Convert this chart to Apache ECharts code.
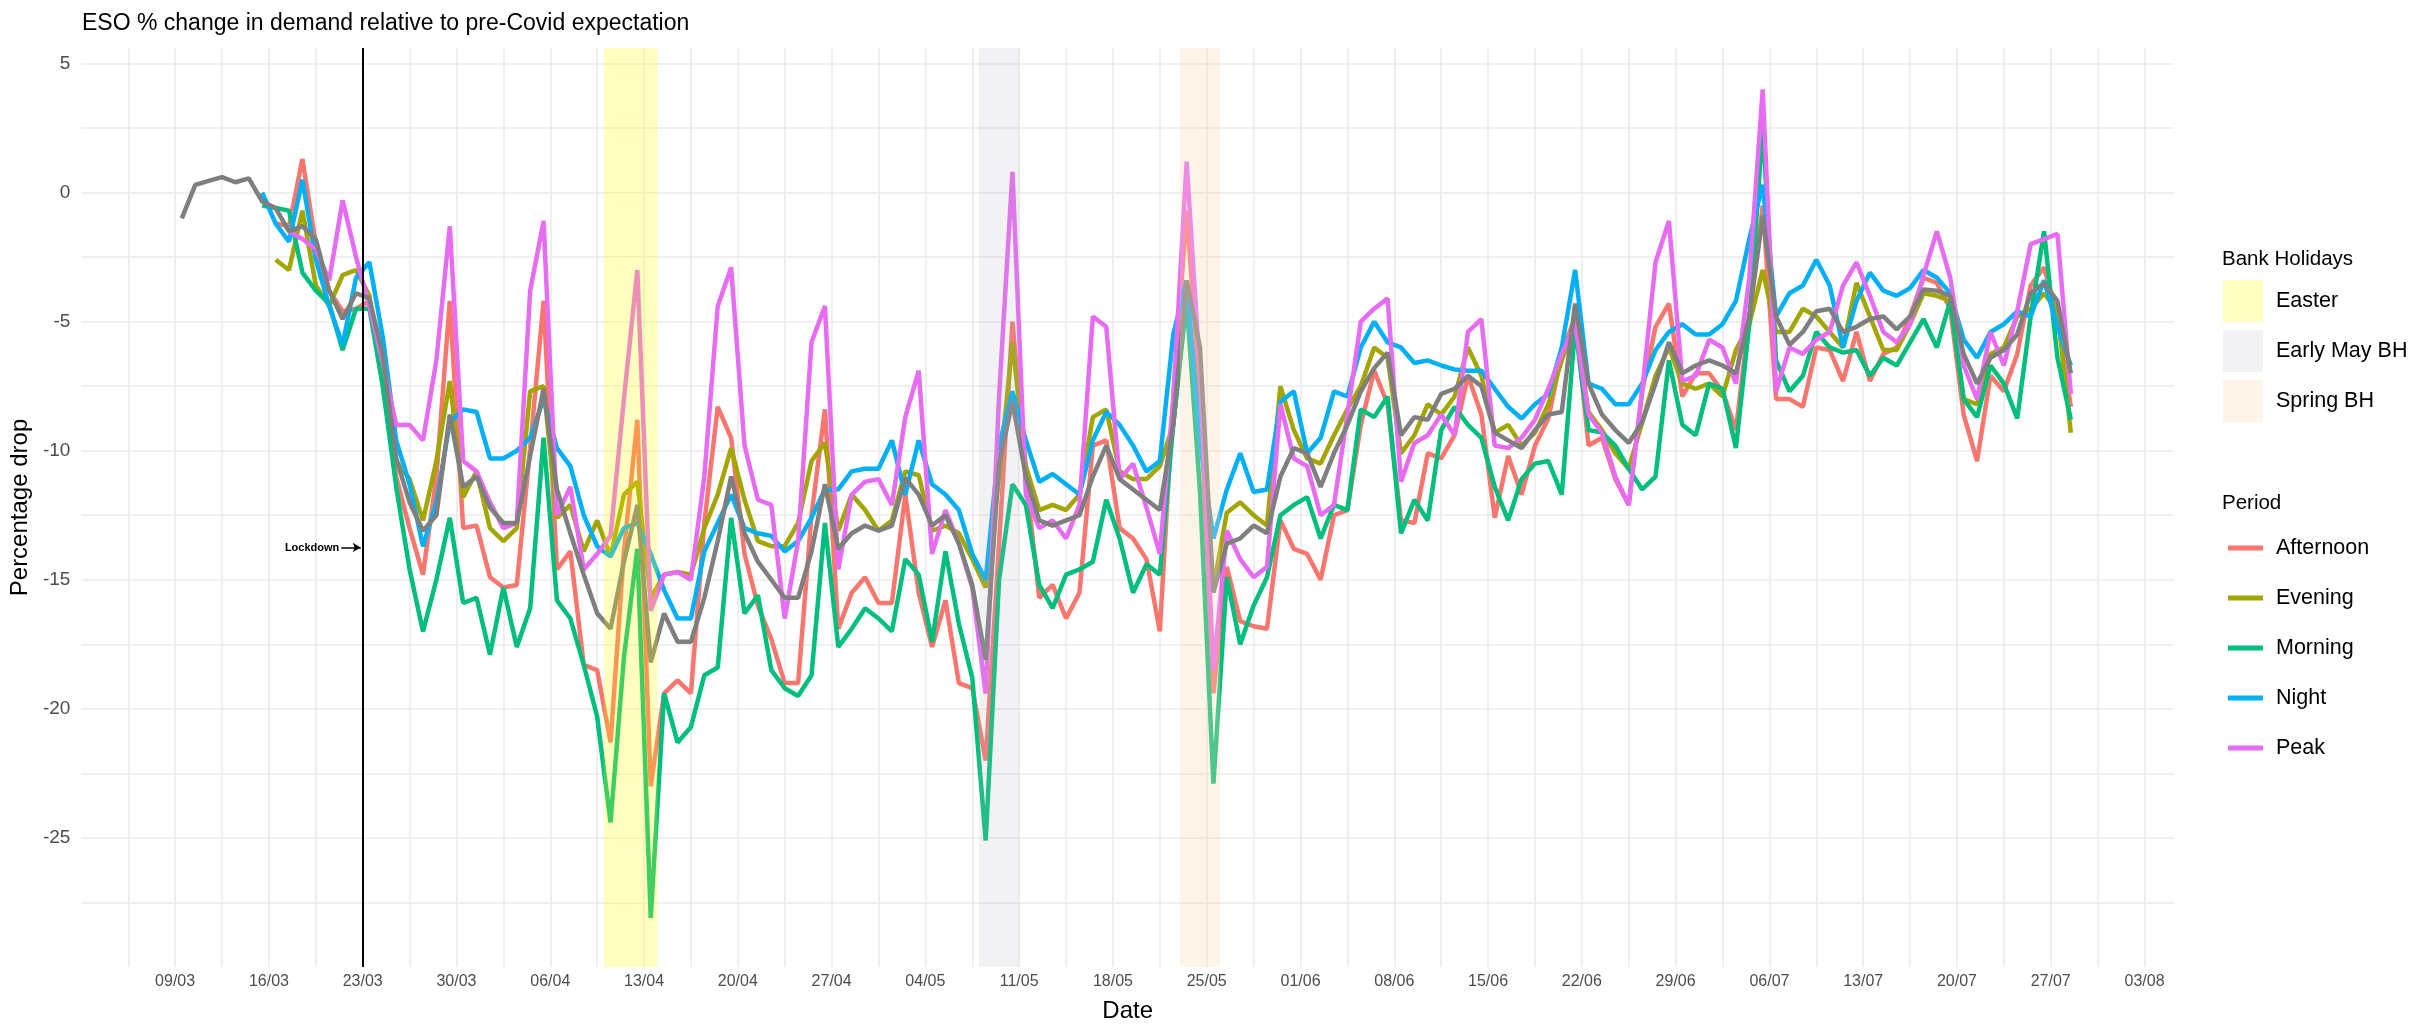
<!DOCTYPE html>
<html>
<head>
<meta charset="utf-8">
<title>ESO demand change</title>
<script src="https://cdn.jsdelivr.net/npm/echarts@6/dist/echarts.min.js"></script>
<style>
html, body { margin: 0; padding: 0; background: #fff; }
#main { width: 2414px; height: 1028px; }
</style>
</head>
<body>
<div id="main"></div>
<script>
// daily readings, first value is 09/03/2020
var firstDay = '2020-03-09';
var lockdownDay = '2020-03-23';

var periods = ['Afternoon', 'Evening', 'Morning', 'Night', 'Peak'];
var periodColors = ['#F8766D', '#A3A500', '#00BF7D', '#00B0F6', '#E76BF3'];

var holidayNames = ['Easter', 'Early May BH', 'Spring BH'];
var holidayFrom = ['2020-04-10', '2020-05-08', '2020-05-23'];
var holidayTo = ['2020-04-14', '2020-05-11', '2020-05-26'];
var holidayColors = ['rgba(255,255,0,0.25)', 'rgba(185,175,190,0.18)', 'rgba(255,218,185,0.3)'];

var allDay = [
  -1.0, 0.3, 0.45, 0.6, 0.4, 0.55, -0.35, -0.6, -1.5, -1.3,
  -1.8, -3.8, -4.9, -3.9, -4.1, -6.3, -10.3, -12.0, -13.1, -12.5,
  -8.6, -11.4, -11.0, -12.2, -12.8, -12.8, -10.2, -7.6, -11.5, -13.2,
  -14.8, -16.3, -16.9, -14.3, -12.1, -18.2, -16.3, -17.4, -17.4, -15.7,
  -13.5, -11.0, -13.2, -14.3, -15.0, -15.7, -15.7, -13.9, -11.3, -13.8,
  -13.2, -12.9, -13.1, -12.9, -11.05, -11.7, -12.9, -12.5, -13.6, -15.2,
  -18.1, -10.5, -8.1, -11.0, -12.7, -12.9, -12.7, -12.5, -11.0, -9.8,
  -11.1, -11.5, -11.9, -12.3, -9.0, -3.4, -6.0, -15.5, -13.6, -13.4,
  -12.9, -13.2, -11.0, -9.9, -10.1, -11.4, -10.1, -9.0, -7.7, -6.8,
  -6.2, -9.4, -8.7, -8.8, -7.8, -7.6, -7.1, -7.5, -9.3, -9.6,
  -9.9, -9.2, -8.6, -8.5, -4.3, -7.4, -8.6, -9.2, -9.7, -8.9,
  -7.4, -5.8, -7.0, -6.7, -6.5, -6.7, -7.0, -4.8, -0.9, -4.8,
  -5.9, -5.4, -4.6, -4.5, -5.4, -5.2, -4.9, -4.8, -5.3, -4.8,
  -3.75, -3.8, -4.0, -6.25, -7.4, -6.4, -6.1, -5.5, -3.9, -3.5,
  -4.2, -7.0
];

var afternoon = [
  null, null, null, null, null, null, null, -1.2, -1.3, 1.3,
  -2.0, -3.8, -4.6, -4.5, -4.2, -7.5, -11.0, -13.0, -14.8, -11.0,
  -4.2, -13.0, -12.9, -14.9, -15.3, -15.2, -9.9, -4.2, -14.6, -13.9,
  -18.3, -18.5, -21.3, -13.9, -8.8, -23.0, -19.4, -18.9, -19.4, -12.8,
  -8.3, -9.5, -14.0, -16.0, -17.3, -19.0, -19.0, -12.5, -8.4, -16.9,
  -15.5, -14.9, -15.9, -15.9, -11.7, -15.5, -17.6, -15.8, -19.0, -19.2,
  -22.0, -13.6, -5.0, -11.0, -15.7, -15.2, -16.5, -15.5, -9.8, -9.6,
  -13.0, -13.4, -14.2, -17.0, -8.0, -0.7, -7.9, -19.4, -14.5, -16.6,
  -16.8, -16.9, -12.7, -13.8, -14.0, -15.0, -12.5, -12.3, -9.0, -6.9,
  -8.2, -12.7, -12.8, -10.1, -10.3, -9.4, -7.1, -8.6, -12.6, -10.2,
  -11.7, -9.8, -8.75, -6.25, -4.8, -9.8, -9.5, -11.1, -12.1, -7.7,
  -5.2, -4.3, -7.9, -7.0, -7.0, -7.7, -9.2, -4.8, -0.5, -8.0,
  -8.0, -8.3, -6.0, -6.1, -7.3, -5.4, -7.3, -6.25, -6.0, -4.8,
  -3.3, -3.5, -4.5, -8.6, -10.4, -7.1, -7.7, -6.25, -3.6, -2.9,
  -4.8, -8.3
];

var evening = [
  null, null, null, null, null, null, null, -2.6, -3.0, -0.7,
  -3.6, -4.4, -3.2, -3.0, -4.0, -7.3, -10.4, -11.1, -12.7, -10.4,
  -7.3, -11.8, -10.8, -13.0, -13.5, -13.0, -7.7, -7.5, -12.6, -12.1,
  -13.9, -12.7, -14.1, -11.7, -11.2, -15.7, -14.8, -14.7, -14.8, -13.0,
  -11.7, -9.9, -11.9, -13.5, -13.7, -13.7, -12.8, -10.4, -9.7, -13.1,
  -11.7, -12.3, -13.1, -12.7, -10.8, -10.95, -13.1, -12.9, -13.2, -14.2,
  -15.3, -11.0, -5.8, -10.6, -12.3, -12.1, -12.3, -11.7, -8.7, -8.4,
  -10.8, -11.1, -11.1, -10.6, -9.0, -4.0, -8.8, -15.3, -12.4, -12.0,
  -12.5, -12.9, -7.5, -9.2, -10.3, -10.5, -9.4, -8.4, -7.5, -6.0,
  -6.4, -10.1, -9.4, -8.2, -8.6, -7.9, -6.0, -7.1, -9.3, -9.0,
  -9.8, -9.3, -8.2, -6.5, -5.1, -8.5, -9.2, -10.1, -10.7, -8.9,
  -7.1, -6.0, -7.4, -7.6, -7.4, -7.9, -6.1, -5.1, -3.0, -5.4,
  -5.4, -4.5, -4.8, -5.4, -6.0, -3.5, -4.8, -6.1, -6.1, -5.1,
  -3.9, -4.0, -4.2, -8.0, -8.2, -6.25, -6.0, -4.8, -4.5, -3.9,
  -4.6, -9.3
];

var morning = [
  null, null, null, null, null, null, -0.5, -0.6, -0.7, -3.1,
  -3.8, -4.3, -6.1, -4.5, -4.5, -7.5, -11.4, -14.6, -17.0, -15.0,
  -12.6, -15.9, -15.7, -17.9, -15.3, -17.6, -16.1, -9.5, -15.8, -16.5,
  -18.3, -20.3, -24.4, -18.0, -13.8, -28.1, -19.4, -21.3, -20.7, -18.7,
  -18.4, -12.6, -16.3, -15.6, -18.5, -19.2, -19.5, -18.7, -12.8, -17.6,
  -16.9, -16.1, -16.5, -17.0, -14.2, -14.8, -17.4, -13.9, -16.7, -18.8,
  -25.1, -15.0, -11.3, -12.1, -15.2, -16.1, -14.8, -14.6, -14.3, -11.9,
  -13.4, -15.5, -14.4, -14.8, -9.0, -4.2, -11.6, -22.9, -14.9, -17.5,
  -16.0, -14.9, -12.5, -12.1, -11.8, -13.4, -12.1, -12.3, -8.4, -8.7,
  -7.9, -13.2, -11.9, -12.7, -9.2, -8.3, -9.0, -9.5, -11.4, -12.7,
  -11.1, -10.5, -10.4, -11.7, -5.2, -9.2, -9.3, -9.8, -10.7, -11.5,
  -11.0, -6.5, -9.0, -9.4, -7.4, -7.6, -9.9, -5.1, 2.6, -6.5,
  -7.7, -7.1, -5.4, -6.0, -6.2, -6.1, -7.1, -6.4, -6.7, -5.8,
  -4.9, -6.0, -4.2, -8.0, -8.7, -6.7, -7.4, -8.75, -4.8, -1.5,
  -6.4, -8.8
];

var night = [
  null, null, null, null, null, null, 0.0, -1.2, -1.9, 0.5,
  -2.6, -4.4, -5.9, -3.3, -2.7, -5.6, -9.6, -11.3, -13.7, -12.0,
  -8.9, -8.4, -8.5, -10.3, -10.3, -10.0, -9.5, -8.0, -9.9, -10.6,
  -12.5, -13.7, -14.1, -13.0, -12.8, -14.0, -15.4, -16.5, -16.5, -13.9,
  -12.8, -11.7, -13.0, -13.2, -13.3, -13.9, -13.5, -12.6, -11.5, -11.5,
  -10.8, -10.7, -10.7, -9.6, -11.7, -9.6, -11.3, -11.7, -12.3, -14.0,
  -15.0, -9.8, -7.7, -9.6, -11.2, -10.9, -11.3, -11.7, -9.6, -8.5,
  -9.0, -9.8, -10.8, -10.4, -5.5, -3.4, -9.7, -13.4, -11.5, -10.1,
  -11.6, -11.5, -8.1, -7.7, -10.1, -9.5, -7.7, -7.9, -6.0, -5.0,
  -5.8, -6.0, -6.6, -6.5, -6.7, -6.85, -6.9, -6.9, -7.6, -8.3,
  -8.75, -8.2, -7.8, -6.0, -3.0, -7.4, -7.6, -8.2, -8.2, -7.4,
  -6.1, -5.4, -5.1, -5.5, -5.5, -5.1, -4.2, -1.8, 0.3, -4.8,
  -3.9, -3.6, -2.6, -3.6, -6.0, -4.2, -3.1, -3.8, -4.0, -3.7,
  -3.0, -3.3, -3.9, -5.7, -6.4, -5.4, -5.1, -4.6, -4.8, -3.4,
  -5.2, -6.7
];

var peak = [
  null, null, null, null, null, null, null, null, -1.5, -1.8,
  -2.2, -3.4, -0.3, -2.5, -4.4, -6.6, -9.0, -9.0, -9.6, -6.5,
  -1.3, -10.4, -10.8, -12.0, -13.0, -12.8, -3.8, -1.1, -12.5, -11.4,
  -14.6, -14.0, -13.3, -8.0, -3.0, -16.2, -14.8, -14.7, -15.0, -11.0,
  -4.4, -2.9, -9.8, -11.9, -12.1, -16.5, -13.5, -5.8, -4.4, -14.6,
  -11.7, -11.2, -11.1, -12.1, -8.7, -6.9, -14.0, -12.3, -13.6, -15.3,
  -19.4, -7.9, 0.8, -11.7, -13.0, -12.7, -13.4, -12.1, -4.8, -5.2,
  -11.1, -10.5, -12.2, -14.0, -8.0, 1.2, -7.0, -18.5, -13.1, -14.2,
  -14.9, -14.5, -8.2, -10.3, -10.6, -12.5, -12.1, -8.6, -5.0, -4.5,
  -4.1, -11.2, -9.7, -9.4, -8.6, -9.4, -5.4, -4.9, -9.8, -9.9,
  -9.5, -8.8, -7.6, -6.25, -5.1, -8.6, -9.3, -11.0, -12.1, -7.7,
  -2.7, -1.1, -7.3, -7.1, -5.7, -6.0, -7.4, -3.3, 4.0, -7.7,
  -6.0, -6.25, -5.7, -5.4, -3.6, -2.7, -4.0, -5.4, -5.8, -5.1,
  -3.2, -1.5, -3.3, -6.7, -8.0, -5.4, -6.7, -4.6, -2.0, -1.8,
  -1.6, -7.8
];

var periodValues = [afternoon, evening, morning, night, peak];

function dayNo(s) {
  return (Date.parse(s) - Date.parse(firstDay)) / 86400000;
}

// each reading is a daily figure, drawn at midday
function toPoints(vals) {
  var pts = [];
  for (var i = 0; i < vals.length; i++) {
    if (vals[i] !== null) pts.push([i + 0.5, vals[i]]);
  }
  return pts;
}

function pad(n) { return n < 10 ? '0' + n : '' + n; }

function dayLabel(v) {
  var w = v / 7;
  if (v < 0 || Math.abs(w - Math.round(w)) > 1e-6) return '';
  var d = new Date(Date.parse(firstDay) + Math.round(v) * 86400000);
  return pad(d.getUTCDate()) + '/' + pad(d.getUTCMonth() + 1);
}

var series = [];
for (var p = 0; p < periods.length; p++) {
  series.push({
    name: periods[p],
    type: 'line',
    data: toPoints(periodValues[p]),
    color: periodColors[p],
    showSymbol: false,
    symbol: 'none',
    lineStyle: { width: 4.5, color: periodColors[p] },
    emphasis: { disabled: true }
  });
}

series.push({
  name: 'All day',
  type: 'line',
  data: toPoints(allDay),
  color: '#7F7F7F',
  showSymbol: false,
  symbol: 'none',
  lineStyle: { width: 4.5, color: '#7F7F7F' },
  emphasis: { disabled: true },
  markLine: {
    silent: true,
    z: 12,
    animation: false,
    symbol: ['none', 'none'],
    data: [
      {
        xAxis: dayNo(lockdownDay),
        label: { show: false },
        lineStyle: { color: '#000', width: 2, type: 'solid' }
      },
      [
        {
          coord: [dayNo(lockdownDay) - 1.6, -13.75],
          symbol: 'none',
          label: { show: true, position: 'start', formatter: 'Lockdown', fontSize: 11, fontWeight: 'bold', color: '#000', distance: 2 },
          lineStyle: { color: '#000', width: 1.5, type: 'solid' }
        },
        { coord: [dayNo(lockdownDay) - 0.15, -13.75], symbol: 'arrow', symbolSize: [7, 8] }
      ]
    ]
  }
});

// holiday shading sits on top of the lines, like the translucent rects in the original
for (var h = 0; h < holidayNames.length; h++) {
  series.push({
    name: holidayNames[h],
    type: 'line',
    data: [],
    color: holidayColors[h],
    itemStyle: { color: holidayColors[h] },
    markArea: {
      silent: true,
      z: 10,
      itemStyle: { color: holidayColors[h] },
      data: [[{ xAxis: dayNo(holidayFrom[h]) }, { xAxis: dayNo(holidayTo[h]) }]]
    }
  });
}

var myChart = echarts.init(document.getElementById('main'));
var option = {
  animation: false,
  backgroundColor: '#fff',
  textStyle: { fontFamily: 'Liberation Sans, Arial, sans-serif' },
  title: [
    {
      text: 'ESO % change in demand relative to pre-Covid expectation',
      left: 82, top: 12, padding: 0,
      textStyle: { fontSize: 23, fontWeight: 'normal', color: '#000' }
    },
    {
      text: 'Bank Holidays', left: 2222, top: 249, padding: 0,
      textStyle: { fontSize: 20.5, fontWeight: 'normal', color: '#000' }
    },
    {
      text: 'Period', left: 2222, top: 493, padding: 0,
      textStyle: { fontSize: 20.5, fontWeight: 'normal', color: '#000' }
    }
  ],
  legend: [
    {
      data: holidayNames,
      orient: 'vertical',
      left: 2223, top: 280,
      padding: 0,
      icon: 'rect',
      itemWidth: 40, itemHeight: 42, itemGap: 8,
      selectedMode: false,
      itemStyle: { borderWidth: 0 },
      textStyle: { fontSize: 21.5, lineHeight: 22, color: '#000', padding: [0, 0, 0, 8] }
    },
    {
      data: periods,
      orient: 'vertical',
      left: 2228, top: 537,
      padding: 0,
      icon: 'rect',
      itemWidth: 35, itemHeight: 5, itemGap: 28,
      selectedMode: false,
      itemStyle: { borderWidth: 0 },
      textStyle: { fontSize: 21.5, lineHeight: 22, color: '#000', padding: [0, 0, 0, 8] }
    }
  ],
  grid: { left: 79.4, right: 240, top: 48, bottom: 54.4, containLabel: false },
  xAxis: {
    type: 'value',
    min: -7, max: 149.2, interval: 3.5,
    name: 'Date', nameLocation: 'middle', nameGap: 32,
    nameTextStyle: { fontSize: 24, color: '#000' },
    axisLine: { show: false },
    axisTick: { show: false },
    axisLabel: { formatter: dayLabel, fontSize: 16, color: '#4D4D4D', margin: 7, showMinLabel: false, showMaxLabel: false },
    splitLine: { show: true, showMinLine: false, showMaxLine: false, lineStyle: { color: '#EBEBEB', width: 1.6 } }
  },
  yAxis: {
    type: 'value',
    min: -30, max: 5.6, interval: 2.5,
    name: 'Percentage drop', nameLocation: 'middle', nameGap: 44,
    nameTextStyle: { fontSize: 24, color: '#000' },
    axisLine: { show: false },
    axisTick: { show: false },
    axisLabel: {
      fontSize: 19, color: '#4D4D4D', margin: 11, showMinLabel: false, showMaxLabel: false,
      formatter: function (v) {
        return Math.abs(v / 5 - Math.round(v / 5)) < 1e-6 ? String(Math.round(v)) : '';
      }
    },
    splitLine: { show: true, showMinLine: false, showMaxLine: false, lineStyle: { color: '#EBEBEB', width: 1.6 } }
  },
  series: series
};
myChart.setOption(option);
</script>
</body>
</html>
